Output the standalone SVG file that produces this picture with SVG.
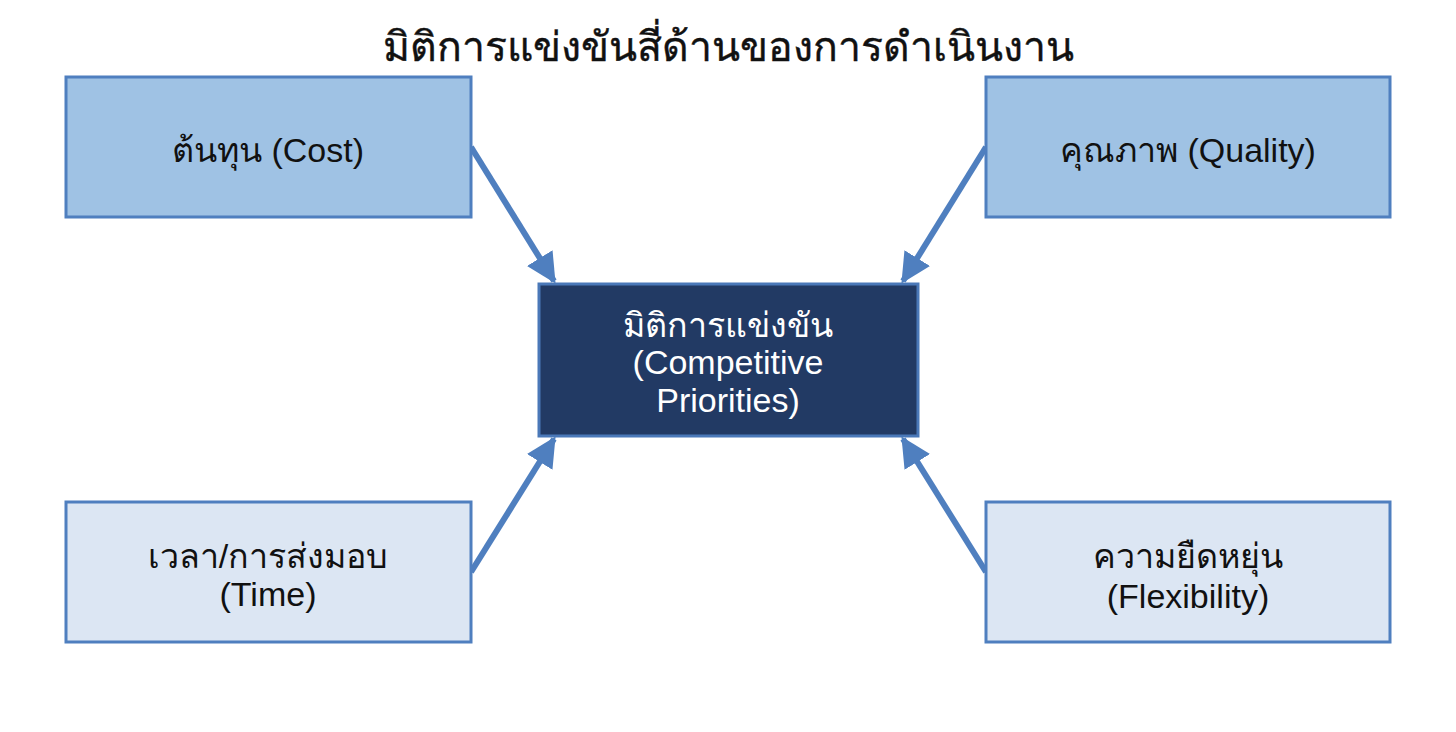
<svg xmlns="http://www.w3.org/2000/svg" width="1456" height="732" viewBox="0 0 1456 732">
<defs>
<style>
text{font-family:"Liberation Sans","Noto Sans",sans-serif;text-anchor:middle;}
.title{font-size:41px;fill:#111;stroke:#111;stroke-width:0.4;}
.lbl{font-size:34px;fill:#111;}
.lblw{font-size:34px;fill:#fff;}
.mid{fill:#9fc2e4;stroke:#4f7fbf;stroke-width:3;}
.light{fill:#dce6f3;stroke:#4f7fbf;stroke-width:3;}
.dark{fill:#223a64;stroke:#4a78b8;stroke-width:3;}
.conn{stroke:#4f7fbf;stroke-width:6;fill:none;marker-end:url(#ah);}
</style>
<marker id="ah" viewBox="0 0 10 10" refX="9" refY="5" markerWidth="5" markerHeight="5" orient="auto" markerUnits="strokeWidth">
<path d="M0,0 L10,5 L0,10 z" fill="#4f7fbf"/>
</marker>
</defs>
<rect width="1456" height="732" fill="#ffffff"/>
<text class="title" x="728" y="61">มิติการแข่งขันสี่ด้านของการดำเนินงาน</text>
<g id="connectors">
<line class="conn" x1="471" y1="147" x2="554" y2="281"/>
<line class="conn" x1="986" y1="147" x2="903" y2="281"/>
<line class="conn" x1="471" y1="572" x2="554" y2="439"/>
<line class="conn" x1="986" y1="572" x2="903" y2="439"/>
</g>
<g id="cost">
<rect class="mid" x="66" y="77" width="405" height="140"/>
<text class="lbl" x="268" y="162">ต้นทุน (Cost)</text>
</g>
<g id="quality">
<rect class="mid" x="986" y="77" width="404" height="140"/>
<text class="lbl" x="1188" y="162">คุณภาพ (Quality)</text>
</g>
<g id="center">
<rect class="dark" x="539" y="284" width="379" height="152"/>
<text class="lblw" x="728" y="337">มิติการแข่งขัน</text>
<text class="lblw" x="728" y="374">(Competitive</text>
<text class="lblw" x="728" y="412">Priorities)</text>
</g>
<g id="time">
<rect class="light" x="66" y="502" width="405" height="140"/>
<text class="lbl" x="268" y="568">เวลา/การส่งมอบ</text>
<text class="lbl" x="268" y="606">(Time)</text>
</g>
<g id="flexibility">
<rect class="light" x="986" y="502" width="404" height="140"/>
<text class="lbl" x="1188" y="568">ความยืดหยุ่น</text>
<text class="lbl" x="1188" y="608">(Flexibility)</text>
</g>
</svg>
